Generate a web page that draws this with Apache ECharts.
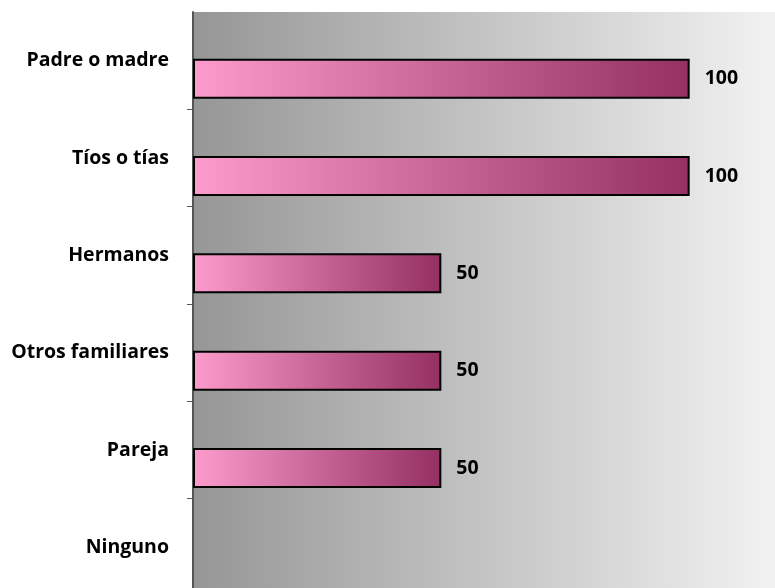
<!DOCTYPE html>
<html>
<head>
<meta charset="utf-8">
<script src="https://cdn.jsdelivr.net/npm/echarts@6/dist/echarts.min.js"></script>
<style>html,body{margin:0;padding:0;background:#fff;overflow:hidden;}#c{width:800px;height:600px;}</style>
</head>
<body>
<div id="c"></div>
<script>
var categories = ['Padre o madre', 'Tíos o tías', 'Hermanos', 'Otros familiares', 'Pareja', 'Ninguno'];
var values = [100, 100, 50, 50, 50, 0];
var xMin = 0;
var xMax = 120;

var chart = echarts.init(document.getElementById('c'), null, {renderer: 'canvas'});
var FONT = 'Open Sans';
chart.setOption({
  animation: false,
  backgroundColor: '#ffffff',
  grid: {
    left: 193, top: 12, width: 596, height: 584,
    show: true, borderWidth: 0,
    backgroundColor: {
      type: 'linear', x: 0, y: 0, x2: 1, y2: 0,
      colorStops: [{offset: 0, color: '#969696'}, {offset: 1, color: '#f4f4f4'}]
    }
  },
  xAxis: {
    type: 'value', min: xMin, max: xMax, show: false
  },
  yAxis: {
    type: 'category', data: categories, inverse: true,
    axisLine: {show: true, lineStyle: {color: '#555555', width: 2}},
    axisTick: {show: true, length: 6, interval: function (i) { return i !== 0; }, lineStyle: {color: '#555555', width: 1}},
    axisLabel: {margin: 24, color: '#000', fontFamily: FONT, fontWeight: 'bold', fontSize: 19.5}
  },
  series: [
    {
      type: 'bar', data: categories.map(function(){ return null; }),
      barWidth: 40, silent: true
    },
    {
      type: 'bar',
      data: values.map(function(v){ return v === 0 ? null : v; }),
      barWidth: 40, barGap: '-10%',
      itemStyle: {
        borderColor: '#000', borderWidth: 2,
        color: {
          type: 'linear', x: 0, y: 0, x2: 1, y2: 0,
          colorStops: [{offset: 0, color: '#fc9bcc'}, {offset: 1, color: '#943062'}]
        }
      },
      label: {
        show: true, position: 'right', distance: 15,
        color: '#000', fontFamily: FONT, fontWeight: 'bold', fontSize: 19.5
      }
    }
  ]
});
</script>
</body>
</html>
